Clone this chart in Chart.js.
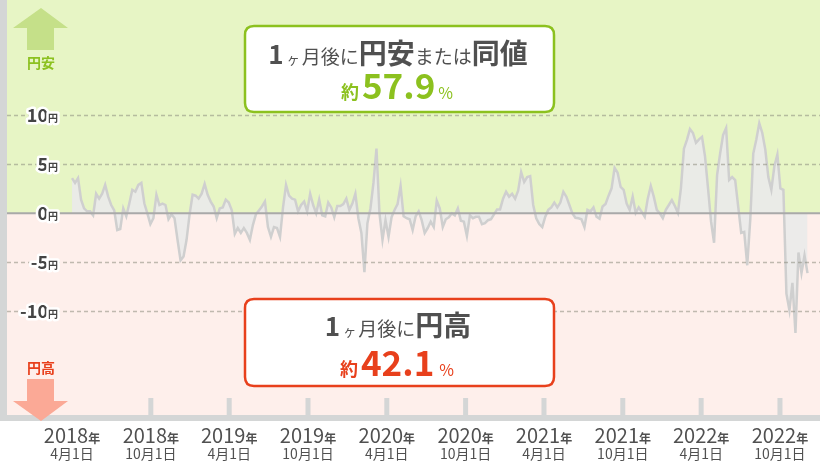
<!DOCTYPE html>
<html>
<head>
<meta charset="utf-8">
<script src="https://cdn.jsdelivr.net/npm/chart.js@4/dist/chart.umd.min.js"></script>
<style>
  html, body { margin: 0; padding: 0; background: #fff; }
  #wrap { width: 820px; height: 470px; }
</style>
</head>
<body>
<div id="wrap"><canvas id="fxChart" width="820" height="470"></canvas></div>
<script>
// --- DATA ---
// 1ヶ月後の為替変動（円）、2018年4月1日から1週間ごと
const STEP_DAYS = 7;
const changeYen = [
  3.6, 3.1, 3.6, 1.4, 0.5, 0.2, 0.2, -0.2, 2.0, 1.5,
  2.0, 2.9, 1.7, 0.85, 0.3, -1.7, -1.6, 0.5, -0.3, 1.0,
  2.4, 2.2, 2.9, 3.1, 1.0, 0, -1.1, -0.5, 1.9, 0.85,
  1.0, 0.85, -0.6, -0.1, -0.5, -2.7, -4.8, -4.4, -2.7, -0.1,
  1.9, 1.8, 1.5, 2.0, 3.0, 1.9, 1.2, 0.7, -0.5, 0.5,
  0.6, 1.4, 1.1, 0.3, -2.1, -1.5, -2.0, -1.5, -2.0, -2.7,
  -1.2, -0.1, 0.3, 0.7, 1.2, -1.4, -2.4, -1.4, -1.5, -2.4,
  0.6, 2.9, 1.8, 1.5, 1.4, 0.2, 0.85, 1.2, 0.2, 2.0,
  0.85, 0, 1.4, -0.2, -0.3, 1.1, 0.6, -0.4, 0.75, 0.75,
  0.95, 1.5, 0.35, 1.0, 2.0, -0.5, -2.0, -6.0, -1.0, 0.5,
  3.1, 6.6, 0, -2.7, -0.7, -2.4, -0.4, 0.35, 0.95, 2.8,
  -0.3, -0.5, -0.6, -1.7, -0.3, 0.2, -0.7, -2.0, -1.5, -0.85,
  -1.4, 1.3, 0.5, -1.4, -0.6, -0.4, 0, -0.2, 0.5, -0.75,
  -0.85, -2.3, -0.2, -0.5, -0.35, -0.35, -1.1, -1.0, -0.7, -0.6,
  -0.1, 0.4, 0.4, 1.5, 2.2, 1.7, 2.0, 1.5, 2.3, 4.2,
  3.2, 3.7, 3.8, 0.85, -0.5, -1.1, -1.4, -0.35, 0.35, 0.6,
  1.1, 0.6, 1.1, 2.2, 1.7, 0.85, 0, -0.45, -0.5, -0.6,
  -1.4, 0.35, 0.2, 0.6, -0.35, -0.55, 0.7, 0.95, 1.8, 2.55,
  4.65, 4.15, 2.7, 2.4, 1.0, 0.35, 1.7, 0.05, 0.6, 0.15,
  -0.35, 1.5, 2.8, 1.7, 0.35, 0, -0.5, 0.35, 0.85, 1.35,
  0.75, 0.05, 2.55, 6.6, 7.5, 8.6, 8.2, 7.2, 7.55, 7.8,
  5.8, 2.55, -0.85, -3.0, 3.9, 6.1, 8.0, 8.7, 3.4, 3.7,
  3.4, 0.7, -2.0, -1.9, -5.3, -0.7, 6.1, 7.5, 9.2, 8.2,
  6.5, 3.7, 2.4, 4.8, 6.0, 2.55, 2.4, -8.2, -9.9, -7.1,
  -12.2, -4.0, -6.1, -4.3, -6.1
];

// x軸の目盛り（2018年4月1日からの日数）
const xTickDays = [0, 183, 365, 548, 731, 914, 1096, 1279, 1461, 1644];
const xTickYears = ["2018", "2018", "2019", "2019", "2020", "2020", "2021", "2021", "2022", "2022"];
const xTickDates = ["4月1日", "10月1日", "4月1日", "10月1日", "4月1日", "10月1日", "4月1日", "10月1日", "4月1日", "10月1日"];

// y軸の目盛り
const yTicks = [10, 5, 0, -5, -10];
const yTickLabels = ["10", "5", "0", "-5", "-10"];

// 割合
const weakYenPct = "57.9";
const strongYenPct = "42.1";

// --- COLORS / FONTS ---
const JP = '"Noto Sans CJK JP", "Noto Sans", sans-serif';
const GREEN = "#8cc11f";
const RED = "#e8401c";
const TEXT = "#505050";
const AXIS_GRAY = "#d4d6d6";

// 文字列を複数サイズで並べて描く
function drawRuns(ctx, runs, x, y, align, halo) {
    let total = 0;
    runs.forEach(r => {
        ctx.font = r.font;
        r.w = ctx.measureText(r.text).width;
        total += r.w + (r.gap || 0);
    });
    let cx = align === "right" ? x - total : x - total / 2;
    ctx.textBaseline = "alphabetic";
    ctx.textAlign = "left";
    runs.forEach(r => {
        ctx.font = r.font;
        if (halo) {
            ctx.strokeStyle = "#fff";
            ctx.lineWidth = 5;
            ctx.lineJoin = "round";
            ctx.strokeText(r.text, cx, y);
        }
        ctx.fillStyle = r.color;
        ctx.fillText(r.text, cx, y);
        cx += r.w + (r.gap || 0);
    });
}

function roundRect(ctx, x, y, w, h, r) {
    ctx.beginPath();
    ctx.moveTo(x + r, y);
    ctx.lineTo(x + w - r, y);
    ctx.quadraticCurveTo(x + w, y, x + w, y + r);
    ctx.lineTo(x + w, y + h - r);
    ctx.quadraticCurveTo(x + w, y + h, x + w - r, y + h);
    ctx.lineTo(x + r, y + h);
    ctx.quadraticCurveTo(x, y + h, x, y + h - r);
    ctx.lineTo(x, y + r);
    ctx.quadraticCurveTo(x, y, x + r, y);
    ctx.closePath();
}

// 背景（円安／円高ゾーン）
const zonePlugin = {
    id: "zones",
    beforeDatasetsDraw(chart) {
        const { ctx, chartArea: a, scales: { y } } = chart;
        const zero = y.getPixelForValue(0);
        ctx.save();
        ctx.fillStyle = "#e7f5c5";
        ctx.fillRect(a.left, a.top, a.right - a.left, zero - a.top);
        ctx.fillStyle = "#feefeb";
        ctx.fillRect(a.left, zero, a.right - a.left, a.bottom - zero);
        ctx.restore();
    },
    afterDatasetsDraw(chart) {
        const { ctx, chartArea: a, scales: { y } } = chart;
        ctx.save();
        // 破線の目盛り線
        ctx.strokeStyle = "rgba(140,140,125,0.55)";
        ctx.lineWidth = 1.5;
        ctx.setLineDash([4, 3]);
        yTicks.forEach(v => {
            if (v === 0) return;
            const py = Math.round(y.getPixelForValue(v)) + 0.5;
            ctx.beginPath();
            ctx.moveTo(a.left, py);
            ctx.lineTo(a.right, py);
            ctx.stroke();
        });
        // 0円ライン
        ctx.setLineDash([]);
        ctx.strokeStyle = "#a9a9a9";
        ctx.lineWidth = 2;
        const pz = y.getPixelForValue(0);
        ctx.beginPath();
        ctx.moveTo(a.left, pz);
        ctx.lineTo(a.right, pz);
        ctx.stroke();
        ctx.restore();
    }
};

// 軸・ラベル・注記
const overlayPlugin = {
    id: "overlay",
    afterDraw(chart) {
        const { ctx, chartArea: a, scales: { x, y } } = chart;
        ctx.save();

        // 軸の帯
        ctx.fillStyle = AXIS_GRAY;
        ctx.fillRect(0, 0, a.left, a.bottom + 6);
        ctx.fillRect(0, a.bottom, chart.width, 6);
        xTickDays.forEach((d, i) => {
            if (i === 0) return;
            const px = x.getPixelForValue(d);
            ctx.fillRect(px - 2.5, a.bottom - 17, 5, 17);
        });

        // x軸ラベル
        xTickDays.forEach((d, i) => {
            const px = x.getPixelForValue(d);
            drawRuns(ctx, [
                { text: xTickYears[i], font: "20px " + JP, color: TEXT },
                { text: "年", font: "bold 12px " + JP, color: TEXT }
            ], px, 443);
            drawRuns(ctx, [
                { text: xTickDates[i], font: "14px " + JP, color: TEXT }
            ], px, 459);
        });

        // y軸ラベル
        yTicks.forEach((v, i) => {
            const py = y.getPixelForValue(v);
            drawRuns(ctx, [
                { text: yTickLabels[i], font: "bold 18px " + JP, color: "#444" },
                { text: "円", font: "bold 10px " + JP, color: "#444" }
            ], 58, py + 6.5, "right", true);
        });

        // 円安の矢印
        ctx.fillStyle = "#c5e089";
        ctx.beginPath();
        ctx.moveTo(41, 8); ctx.lineTo(68, 28); ctx.lineTo(54, 28); ctx.lineTo(54, 50);
        ctx.lineTo(27, 50); ctx.lineTo(27, 28); ctx.lineTo(13, 28);
        ctx.closePath(); ctx.fill();
        drawRuns(ctx, [{ text: "円安", font: "bold 14px " + JP, color: GREEN }], 41, 68);

        // 円高の矢印
        ctx.fillStyle = "#fba996";
        ctx.beginPath();
        ctx.moveTo(27, 379); ctx.lineTo(54, 379); ctx.lineTo(54, 401); ctx.lineTo(68, 401);
        ctx.lineTo(41, 421); ctx.lineTo(13, 401); ctx.lineTo(27, 401);
        ctx.closePath(); ctx.fill();
        drawRuns(ctx, [{ text: "円高", font: "bold 14px " + JP, color: RED }], 41, 373);

        // 円安の注記ボックス
        roundRect(ctx, 245, 26, 309, 86, 9);
        ctx.fillStyle = "#fff"; ctx.fill();
        ctx.lineWidth = 2.5; ctx.strokeStyle = GREEN; ctx.stroke();
        drawRuns(ctx, [
            { text: "1", font: "bold 26px " + JP, color: TEXT, gap: 3 },
            { text: "ヶ", font: "13px " + JP, color: TEXT, gap: 2 },
            { text: "月後に", font: "19px " + JP, color: TEXT },
            { text: "円安", font: "bold 28px " + JP, color: TEXT },
            { text: "または", font: "19px " + JP, color: TEXT },
            { text: "同値", font: "bold 28px " + JP, color: TEXT }
        ], 398, 64);
        drawRuns(ctx, [
            { text: "約", font: "bold 18px " + JP, color: GREEN, gap: 3 },
            { text: weakYenPct, font: "bold 35px " + JP, color: GREEN, gap: 3 },
            { text: "%", font: "16px " + JP, color: GREEN }
        ], 397, 99);

        // 円高の注記ボックス
        roundRect(ctx, 245, 299, 309, 87, 9);
        ctx.fillStyle = "#fff"; ctx.fill();
        ctx.lineWidth = 2.5; ctx.strokeStyle = RED; ctx.stroke();
        drawRuns(ctx, [
            { text: "1", font: "bold 26px " + JP, color: TEXT, gap: 3 },
            { text: "ヶ", font: "13px " + JP, color: TEXT, gap: 2 },
            { text: "月後に", font: "19px " + JP, color: TEXT },
            { text: "円高", font: "bold 28px " + JP, color: TEXT }
        ], 398, 336);
        drawRuns(ctx, [
            { text: "約", font: "bold 18px " + JP, color: RED, gap: 3 },
            { text: strongYenPct, font: "bold 35px " + JP, color: RED, gap: 5 },
            { text: "%", font: "16px " + JP, color: RED }
        ], 397, 376);

        ctx.restore();
    }
};

document.addEventListener('DOMContentLoaded', () => {
    const points = changeYen.map((v, i) => ({ x: i * STEP_DAYS, y: v }));

    new Chart(document.getElementById("fxChart"), {
        type: "line",
        data: {
            datasets: [{
                label: "1ヶ月後の変動",
                data: points,
                borderColor: "#cfcfcf",
                backgroundColor: "rgba(234,234,234,0.9)",
                borderWidth: 2.5,
                fill: "origin",
                pointRadius: 0,
                tension: 0
            }]
        },
        options: {
            responsive: false,
            animation: false,
            layout: { padding: { left: 7, right: 0, top: 0, bottom: 55 } },
            plugins: {
                legend: { display: false },
                tooltip: { enabled: false }
            },
            scales: {
                x: { type: "linear", min: -151, max: 1737, display: false },
                y: { min: -20.58, max: 21.77, display: false }
            }
        },
        plugins: [zonePlugin, overlayPlugin]
    });
});
</script>
</body>
</html>
